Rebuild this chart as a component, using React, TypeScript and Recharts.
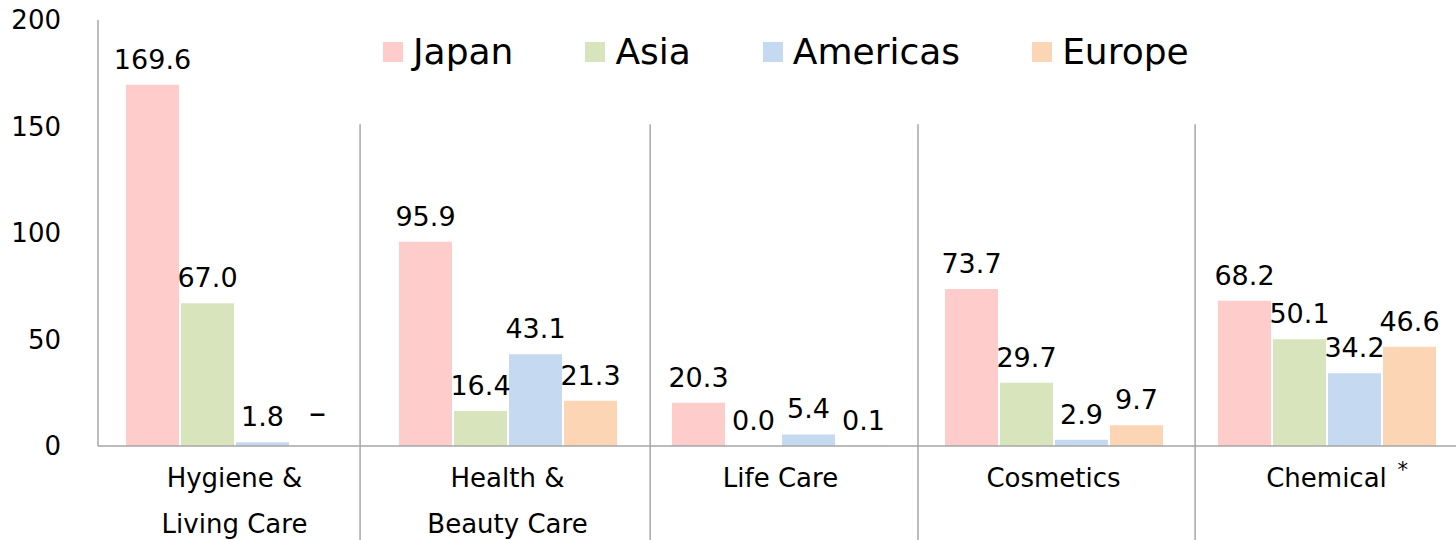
import { Bar, BarChart, LabelList, ReferenceLine, XAxis, YAxis } from 'recharts';

const FONT = '"DejaVu Sans", Verdana, sans-serif';

const categories = ['Hygiene & Living Care', 'Health & Beauty Care', 'Life Care', 'Cosmetics', 'Chemical'];
const categoryLines = [['Hygiene &', 'Living Care'], ['Health &', 'Beauty Care'], ['Life Care'], ['Cosmetics'], ['Chemical']];
const japan = [169.6, 95.9, 20.3, 73.7, 68.2];
const asia = [67.0, 16.4, 0.0, 29.7, 50.1];
const americas = [1.8, 43.1, 5.4, 2.9, 34.2];
const europe: (number | null)[] = [null, 21.3, 0.1, 9.7, 46.6];
const yTicks = [0, 50, 100, 150, 200];
// group separators, on a hidden 0..4 axis spanning the plot width
const separators = [0.768, 1.618, 2.403, 3.215];

const series = [
  { key: 'japan', name: 'Japan', color: '#FFCCCC' },
  { key: 'asia', name: 'Asia', color: '#D8E4BC' },
  { key: 'americas', name: 'Americas', color: '#C5D9F1' },
  { key: 'europe', name: 'Europe', color: '#FCD5B5' },
];

const DASH = '–';
const fmt = (v: number | null) => (v == null ? DASH : v.toFixed(1));

const data = categories.map((name, i) => ({
  name,
  japan: japan[i],
  asia: asia[i],
  americas: americas[i],
  europe: europe[i] ?? 0,
  japanLabel: fmt(japan[i]),
  asiaLabel: fmt(asia[i]),
  americasLabel: fmt(americas[i]),
  europeLabel: fmt(europe[i]),
}));

function BarLabel(props: any) {
  const { x, y, width, value } = props;
  const isDash = value === DASH;
  return (
    <text
      x={x + width / 2}
      y={y - (isDash ? 22 : 16)}
      textAnchor="middle"
      fontSize={isDash ? 34 : 27}
      fontFamily={FONT}
      fill="#000"
    >
      {value}
    </text>
  );
}

function CategoryTick(props: any) {
  const { x, y, payload } = props;
  const lines = categoryLines[payload.index] ?? [payload.value];
  const isChemical = payload.value === 'Chemical';
  return (
    <g>
      {lines.map((l, i) => (
        <text key={i} x={x} y={y + 41 + i * 46} textAnchor="middle" fontSize={26} fontFamily={FONT} fill="#000">
          {l}
        </text>
      ))}
      {isChemical && (
        <text x={x + 71} y={y + 31} fontSize={21} fontFamily={FONT} fill="#000">
          *
        </text>
      )}
    </g>
  );
}

export default function App() {
  return (
    <div
      style={{
        position: 'absolute',
        left: 0,
        top: 0,
        width: 1456,
        height: 540,
        overflow: 'hidden',
        background: '#fff',
        fontFamily: FONT,
      }}
    >
      <BarChart
        width={1463}
        height={540}
        data={data}
        margin={{ top: 20, right: 0, bottom: 0, left: 0 }}
        barCategoryGap={27.5}
        barGap={2}
      >
        <XAxis
          dataKey="name"
          height={94}
          tickLine={false}
          tickSize={0}
          tickMargin={0}
          axisLine={{ stroke: '#a6a6a6', strokeWidth: 1.5 }}
          tick={<CategoryTick />}
          interval={0}
        />
        <XAxis xAxisId="sep" type="number" domain={[0, 4]} allowDataOverflow hide />
        <YAxis
          width={98}
          domain={[0, 200]}
          ticks={yTicks}
          tickLine={false}
          tickSize={0}
          tickMargin={37}
          axisLine={{ stroke: '#a6a6a6', strokeWidth: 1.5 }}
          tick={{ fontSize: 26, fill: '#000', fontFamily: FONT }}
        />
        {separators.map((s) => (
          <ReferenceLine
            key={s}
            xAxisId="sep"
            segment={[
              { x: s, y: 151 },
              { x: s, y: -45 },
            ]}
            ifOverflow="visible"
            stroke="#a6a6a6"
            strokeWidth={1.5}
          />
        ))}
        {series.map((s) => (
          <Bar
            key={s.key}
            dataKey={s.key}
            fill={s.color}
            barSize={53}
            minPointSize={0.01}
            isAnimationActive={false}
          >
            <LabelList dataKey={`${s.key}Label`} content={<BarLabel />} />
          </Bar>
        ))}
      </BarChart>
      <div
        style={{
          position: 'absolute',
          left: 383,
          top: 31,
          display: 'flex',
          alignItems: 'center',
          fontSize: 36,
          color: '#000',
          whiteSpace: 'nowrap',
        }}
      >
        {series.map((s) => (
          <div key={s.key} style={{ display: 'flex', alignItems: 'center', marginRight: 72 }}>
            <span style={{ width: 20, height: 20, background: s.color, display: 'inline-block', marginRight: 10 }} />
            <span>{s.name}</span>
          </div>
        ))}
      </div>
    </div>
  );
}
